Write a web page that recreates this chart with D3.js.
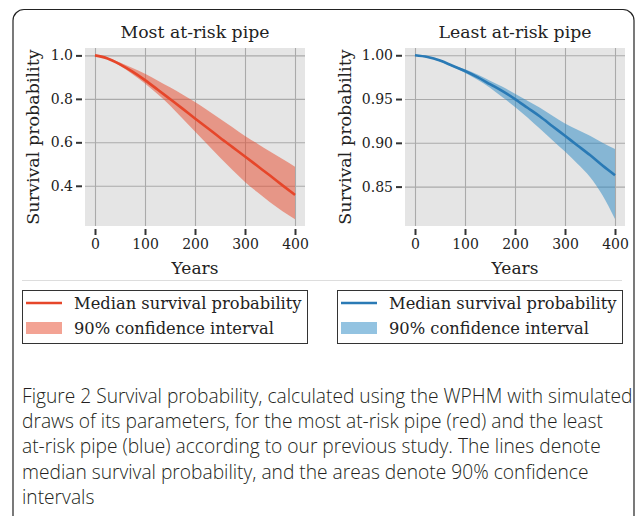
<!DOCTYPE html>
<html>
<head>
<meta charset="utf-8">
<script src="https://cdn.jsdelivr.net/npm/d3@7"></script>
<style>
  body { margin: 0; background: #fff; }
  svg { display: block; }
  .tick text { font-family: "DejaVu Serif", serif; font-size: 14px; fill: #222; }
</style>
</head>
<body>
<svg id="chart" width="638" height="516"></svg>
<script>
// years sampled every 25
const years = [0, 25, 50, 75, 100, 125, 150, 175, 200, 225, 250, 275, 300, 325, 350, 375, 400];

// most at-risk pipe
const mostMedian = [1, 0.986, 0.959, 0.925, 0.886, 0.843, 0.799, 0.755, 0.710, 0.666, 0.621, 0.578, 0.535, 0.491, 0.447, 0.402, 0.358];
const mostUpper  = [1, 0.989, 0.967, 0.942, 0.915, 0.885, 0.853, 0.820, 0.786, 0.748, 0.709, 0.669, 0.629, 0.594, 0.558, 0.523, 0.488];
const mostLower  = [1, 0.984, 0.952, 0.913, 0.871, 0.822, 0.770, 0.710, 0.650, 0.590, 0.530, 0.473, 0.418, 0.370, 0.324, 0.283, 0.246];

// least at-risk pipe
const leastMedian = [1, 0.998, 0.994, 0.988, 0.982, 0.975, 0.967, 0.959, 0.950, 0.940, 0.930, 0.919, 0.908, 0.897, 0.886, 0.874, 0.863];
const leastUpper  = [1, 0.998, 0.994, 0.989, 0.984, 0.978, 0.971, 0.964, 0.956, 0.948, 0.940, 0.931, 0.922, 0.915, 0.908, 0.900, 0.893];
const leastLower  = [1, 0.9975, 0.993, 0.987, 0.980, 0.972, 0.963, 0.952, 0.941, 0.929, 0.916, 0.903, 0.890, 0.876, 0.861, 0.840, 0.813];

const xTicks = [0, 100, 200, 300, 400];
const mostYTicks = [0.4, 0.6, 0.8, 1.0];
const leastYTicks = [0.85, 0.90, 0.95, 1.00];

const legendLabels = ["Median survival probability", "90% confidence interval"];
const caption = [
  "Figure 2 Survival probability, calculated using the WPHM with simulated",
  "draws of its parameters, for the most at-risk pipe (red) and the least",
  "at-risk pipe (blue) according to our previous study. The lines denote",
  "median survival probability, and the areas denote 90% confidence",
  "intervals"
];

const svg = d3.select("#chart");
const serif = '"DejaVu Serif", serif';

// outer frame
svg.append("rect")
  .attr("x", 13).attr("y", 9.5)
  .attr("width", 621).attr("height", 620)
  .attr("rx", 11)
  .attr("fill", "none")
  .attr("stroke", "#222")
  .attr("stroke-width", 1.2);

svg.append("line")
  .attr("x1", 22).attr("x2", 622)
  .attr("y1", 280.5).attr("y2", 280.5)
  .attr("stroke", "#ddd");

function panel(opt) {
  const x = d3.scaleLinear().domain([-20, 420]).range([opt.left, opt.left + 220]);
  const y = d3.scaleLinear().domain(opt.yDomain).range([226, 48]);
  const g = svg.append("g");

  g.append("rect")
    .attr("x", x.range()[0]).attr("y", 48)
    .attr("width", 220).attr("height", 178)
    .attr("fill", "#e5e5e5");

  // grid
  g.append("g")
    .attr("transform", "translate(0,226)")
    .call(d3.axisBottom(x).tickValues(xTicks).tickSize(-178).tickFormat(""))
    .call(a => a.select(".domain").remove())
    .call(a => a.selectAll(".tick line").attr("stroke", "#aaa").attr("stroke-width", 1.1));
  g.append("g")
    .attr("transform", `translate(${x.range()[0]},0)`)
    .call(d3.axisLeft(y).tickValues(opt.yTicks).tickSize(-220).tickFormat(""))
    .call(a => a.select(".domain").remove())
    .call(a => a.selectAll(".tick line").attr("stroke", "#aaa").attr("stroke-width", 1.1));

  const rows = years.map((t, i) => ({ t, m: opt.median[i], lo: opt.lower[i], hi: opt.upper[i] }));

  g.append("path")
    .datum(rows)
    .attr("fill", opt.band)
    .attr("fill-opacity", 0.5)
    .attr("d", d3.area().curve(d3.curveMonotoneX)
      .x(d => x(d.t)).y0(d => y(d.lo)).y1(d => y(d.hi)));

  g.append("path")
    .datum(rows)
    .attr("fill", "none")
    .attr("stroke", opt.line)
    .attr("stroke-width", 2.6)
    .attr("d", d3.line().curve(d3.curveMonotoneX).x(d => x(d.t)).y(d => y(d.m)));

  // axes with offset ticks
  g.append("g")
    .attr("transform", "translate(0,229)")
    .call(d3.axisBottom(x).tickValues(xTicks).tickSize(6).tickPadding(4))
    .call(a => a.select(".domain").remove())
    .call(a => a.selectAll(".tick line").attr("stroke", "#333").attr("stroke-width", 2));
  g.append("g")
    .attr("transform", `translate(${x.range()[0] - 3},0)`)
    .call(d3.axisLeft(y).tickValues(opt.yTicks).tickSize(6).tickPadding(3).tickFormat(d3.format(opt.fmt)))
    .call(a => a.select(".domain").remove())
    .call(a => a.selectAll(".tick line").attr("stroke", "#333").attr("stroke-width", 2));

  const cx = opt.left + 110;
  g.append("text")
    .attr("x", cx).attr("y", 38)
    .attr("text-anchor", "middle")
    .attr("font-family", serif).attr("font-size", 17.3).attr("fill", "#222")
    .text(opt.title);
  g.append("text")
    .attr("x", cx).attr("y", 274)
    .attr("text-anchor", "middle")
    .attr("font-family", serif).attr("font-size", 17).attr("fill", "#222")
    .text("Years");
  g.append("text")
    .attr("transform", `translate(${opt.ylabX},137) rotate(-90)`)
    .attr("text-anchor", "middle")
    .attr("dominant-baseline", "central")
    .attr("font-family", serif).attr("font-size", 17.5).attr("fill", "#222")
    .text("Survival probability");

  // legend
  const lx = opt.legendX;
  const lg = g.append("g");
  lg.append("rect")
    .attr("x", lx + 0.5).attr("y", 290.5)
    .attr("width", 285).attr("height", 53)
    .attr("fill", "#fff").attr("stroke", "#333");
  lg.append("line")
    .attr("x1", lx + 4).attr("x2", lx + 40)
    .attr("y1", 303).attr("y2", 303)
    .attr("stroke", opt.line).attr("stroke-width", 2.6);
  lg.append("rect")
    .attr("x", lx + 4).attr("y", 322)
    .attr("width", 36).attr("height", 12)
    .attr("fill", opt.band).attr("fill-opacity", 0.5);
  lg.selectAll("text.leg")
    .data(legendLabels)
    .join("text")
    .attr("class", "leg")
    .attr("x", lx + 52)
    .attr("y", (d, i) => 303 + i * 25)
    .attr("dominant-baseline", "central")
    .attr("font-family", serif).attr("font-size", 16.3).attr("fill", "#222")
    .text(d => d);
}

panel({
  left: 85, yDomain: [0.215, 1.034], yTicks: mostYTicks, fmt: ".1f",
  median: mostMedian, upper: mostUpper, lower: mostLower,
  line: "#e6462a", band: "#e74729",
  title: "Most at-risk pipe", ylabX: 33, legendX: 22
});
panel({
  left: 405, yDomain: [0.805, 1.0083], yTicks: leastYTicks, fmt: ".2f",
  median: leastMedian, upper: leastUpper, lower: leastLower,
  line: "#2a7ab5", band: "#2787c3",
  title: "Least at-risk pipe", ylabX: 345, legendX: 337
});

svg.append("g").selectAll("text")
  .data(caption)
  .join("text")
  .attr("x", 22)
  .attr("y", (d, i) => 403 + i * 25.2)
  .attr("font-family", '"Open Sans", sans-serif')
  .attr("font-weight", 300)
  .attr("font-size", 19.2)
  .attr("fill", "#231f20")
  .text(d => d);
</script>
</body>
</html>
